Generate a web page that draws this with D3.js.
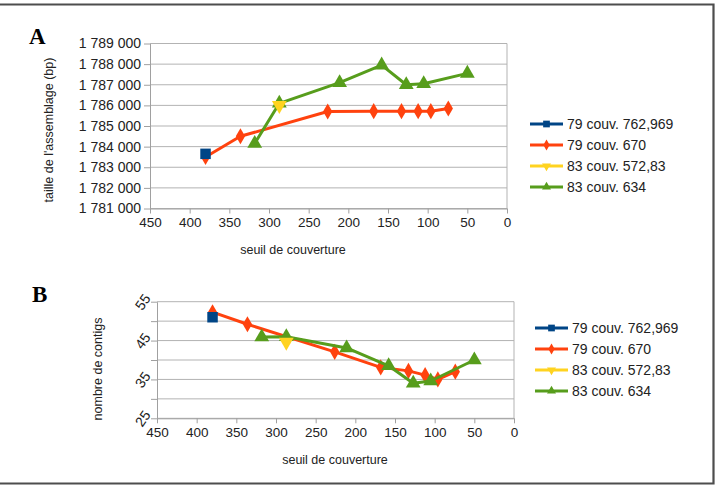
<!DOCTYPE html>
<html>
<head>
<meta charset="utf-8">
<script src="https://cdn.jsdelivr.net/npm/d3@7.9.0/dist/d3.min.js"></script>
<style>
  body { margin: 0; background: #fff; }
  svg { display: block; font-family: "Liberation Sans", Arial, sans-serif; }
</style>
</head>
<body>
<svg width="717" height="486"></svg>
<script>
// series names (legend)
const seriesNames = ["79 couv. 762,969", "79 couv. 670", "83 couv. 572,83", "83 couv. 634"];
const seriesColors = ["#004586", "#ff420e", "#ffd320", "#579d1c"];

// seuil de couverture (x) per series
const xBlue = [380];
const xOrange = [380, 336, 226, 168, 133, 112, 96, 74];
const xYellow = [287];
const xGreen = [318, 287, 211, 158, 127, 105, 50];

// A: taille de l'assemblage (bp)
const sizeBlue = [1783650];
const sizeOrange = [1783500, 1784500, 1785700, 1785720, 1785720, 1785720, 1785720, 1785850];
const sizeYellow = [1786000];
const sizeGreen = [1784150, 1786100, 1787100, 1787950, 1787000, 1787050, 1787550];

// B: nombre de contigs
const contigBlue = [51];
const contigOrange = [52.3, 49.2, 42.1, 38.1, 37.2, 36.1, 35, 37];
const contigYellow = [44.6];
const contigGreen = [45.9, 46, 43.1, 38.5, 34, 34.6, 40];

const xTicks = [450, 400, 350, 300, 250, 200, 150, 100, 50, 0];
const sizeTicks = d3.range(1781000, 1789001, 1000);
const contigTicks = [25, 30, 35, 40, 45, 50, 55];
const contigLabels = [25, 35, 45, 55];

const svg = d3.select('svg');
const frame = '#4d4d4d';
const grid = '#b3b3b3';

// outer frame (no left side)
svg.append('path')
    .attr('d', 'M0,4.5 H713.5 V483.5 H0')
    .attr('fill', 'none').attr('stroke', frame).attr('stroke-width', 2.2);

const fmtSpace = v => d3.format(',')(v).replace(/,/g, ' ');

function zip(xs, ys) { return xs.map((x, i) => ({ x: x, y: ys[i] })); }

const symbolTypes = [d3.symbolSquare, d3.symbolDiamond, d3.symbolTriangle, d3.symbolTriangle];
const symbolSizes = [110, 75, 95, 95];
const symbolRot = [0, 0, 180, 0];

function drawChart(cfg) {
    const x = d3.scaleLinear().domain([450, 0]).range([cfg.left, cfg.right]);
    const y = d3.scaleLinear().domain(cfg.yDomain).range([cfg.bottom, cfg.top]);
    const g = svg.append('g');

    // gridlines
    g.selectAll('.grid').data(cfg.yTicks).join('line')
        .attr('x1', cfg.left).attr('x2', cfg.right)
        .attr('y1', d => y(d)).attr('y2', d => y(d))
        .attr('stroke', grid).attr('stroke-width', 1);
    g.append('line').attr('x1', cfg.right).attr('x2', cfg.right)
        .attr('y1', cfg.top).attr('y2', cfg.bottom)
        .attr('stroke', grid);

    // axes
    const xAxis = g.append('g').attr('transform', `translate(0,${cfg.bottom})`)
        .call(d3.axisBottom(x).tickValues(xTicks).tickSize(5).tickSizeOuter(0).tickPadding(4));
    xAxis.selectAll('text').attr('font-size', 13.5).attr('fill', '#222').attr('font-family', 'Liberation Sans, Arial');
    xAxis.selectAll('line, path').attr('stroke', '#a0a0a0');

    const yAxis = g.append('g').attr('transform', `translate(${cfg.left},0)`)
        .call(d3.axisLeft(y).tickValues(cfg.yTicks).tickSize(6).tickSizeOuter(0)
            .tickFormat(d => cfg.labelFilter(d) ? cfg.fmt(d) : ''));
    yAxis.selectAll('line, path').attr('stroke', '#a0a0a0');
    yAxis.selectAll('text').attr('font-size', 14).attr('fill', '#222').attr('font-family', 'Liberation Sans, Arial');
    if (cfg.rotateY) {
        // labels tilted, rotated around their own centre
        yAxis.selectAll('.tick text')
            .attr('text-anchor', 'middle').attr('x', -14).attr('dy', '0.32em')
            .attr('transform', 'rotate(-55,-14,0)');
    }

    // series
    const series = [
        zip(xBlue, cfg.data[0]), zip(xOrange, cfg.data[1]),
        zip(xYellow, cfg.data[2]), zip(xGreen, cfg.data[3])
    ];
    const line = d3.line().x(d => x(d.x)).y(d => y(d.y));
    [1, 3, 0, 2].forEach(i => {
        g.append('path').datum(series[i]).attr('d', line)
            .attr('fill', 'none').attr('stroke', seriesColors[i])
            .attr('stroke-width', 3).attr('stroke-linejoin', 'round');
        g.selectAll(null).data(series[i]).join('path')
            .attr('d', d3.symbol().type(symbolTypes[i]).size(symbolSizes[i]))
            .attr('transform', d => `translate(${x(d.x)},${y(d.y)}) rotate(${symbolRot[i]})`)
            .attr('fill', seriesColors[i]);
    });

    // axis titles
    g.append('text').attr('x', cfg.xTitle[0]).attr('y', cfg.xTitle[1])
        .attr('text-anchor', 'middle').attr('font-size', 12.5).attr('fill', '#222')
        .text('seuil de couverture');
    g.append('text')
        .attr('transform', `translate(${cfg.yTitle[0]},${cfg.yTitle[1]}) rotate(-90)`)
        .attr('text-anchor', 'middle').attr('font-size', 12.5).attr('fill', '#222')
        .text(cfg.yTitleText);

    // panel letter
    g.append('text').attr('x', cfg.letter[0]).attr('y', cfg.letter[1])
        .attr('font-family', 'Liberation Serif, Times New Roman, serif')
        .attr('font-weight', 'bold').attr('font-size', 23).attr('fill', '#000')
        .text(cfg.letterText);

    // legend
    const lg = g.append('g').attr('transform', `translate(${cfg.legend[0]},${cfg.legend[1]})`);
    seriesNames.forEach((name, i) => {
        const row = lg.append('g').attr('transform', `translate(0,${i * 21})`);
        row.append('line').attr('x1', 0).attr('x2', 33).attr('y1', 0).attr('y2', 0)
            .attr('stroke', seriesColors[i]).attr('stroke-width', 3);
        row.append('path').attr('d', d3.symbol().type(symbolTypes[i]).size(i === 0 ? 45 : 35))
            .attr('transform', `translate(16.5,0) rotate(${symbolRot[i]})`)
            .attr('fill', seriesColors[i]);
        row.append('text').attr('x', 37).attr('y', 5).attr('font-size', 14).attr('fill', '#222')
            .text(name);
    });
}

drawChart({
    left: 150, right: 507, top: 43.5, bottom: 208.5,
    yDomain: [1781000, 1789000], yTicks: sizeTicks,
    labelFilter: () => true, fmt: fmtSpace, rotateY: false,
    data: [sizeBlue, sizeOrange, sizeYellow, sizeGreen],
    xTitle: [293, 254], yTitle: [53, 130], yTitleText: "taille de l'assemblage (bp)",
    letter: [29, 44], letterText: 'A',
    legend: [530, 124]
});

drawChart({
    left: 157, right: 514, top: 301.7, bottom: 418.3,
    yDomain: [25, 55], yTicks: contigTicks,
    labelFilter: d => contigLabels.includes(d), fmt: d => d, rotateY: true,
    data: [contigBlue, contigOrange, contigYellow, contigGreen],
    xTitle: [335, 464], yTitle: [102, 369], yTitleText: 'nombre de contigs',
    letter: [32, 302], letterText: 'B',
    legend: [535, 328]
});
</script>
</body>
</html>
